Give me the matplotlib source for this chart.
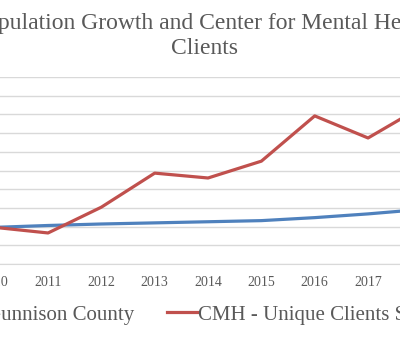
import numpy as np
import matplotlib
matplotlib.use("Agg")
import matplotlib.pyplot as plt

# values (index scale, gridline every 50)
years = ["2010", "2011", "2012", "2013", "2014", "2015", "2016", "2017", "2018"]
gunnison_county = [98, 103, 107, 110, 113, 116, 124, 134, 146]
cmh_clients = [98, 83, 152, 243, 230, 275, 396, 337, 420]

plt.rcParams['font.family'] = ['Liberation Serif', 'DejaVu Serif']
text_grey = "#595959"
blue = "#4F81BD"
red = "#C0504D"

fig = plt.figure(figsize=(4, 3.4), dpi=100)
# the plot area is wider than the picture, it is cut off on both sides
ax = fig.add_axes([-0.1, 0.2235, 1.2, 0.55])

x = np.arange(len(years))
ax.plot(x, gunnison_county, color=blue, lw=2.3, label="Gunnison County")
ax.plot(x, cmh_clients, color=red, lw=2.3, label="CMH - Unique Clients Served")

ax.set_xlim(-0.6506, 8.349)
ax.set_ylim(0, 500)
ax.set_yticks(np.arange(0, 501, 50))
ax.set_yticklabels([])
ax.set_xticks(x)
ax.set_xticklabels(years)
ax.tick_params(axis='both', length=0)
ax.tick_params(axis='x', colors=text_grey, labelsize=10, pad=8.5)
ax.grid(axis='y', color="#d9d9d9", lw=1)
ax.set_axisbelow(True)
for side in ["top", "left", "right"]:
    ax.spines[side].set_visible(False)
ax.spines["bottom"].set_color("#d9d9d9")

fig.text(0.5125, 0.895, "Population Growth and Center for Mental Health\nClients",
         ha='center', va='center', fontsize=17, color=text_grey, linespacing=1.26)

leg = fig.legend(loc='center', bbox_to_anchor=(0.51, 0.074), ncol=2, frameon=False,
                 fontsize=15, handlelength=1.45, handletextpad=0.0, columnspacing=1.6)
for t in leg.get_texts():
    t.set_color(text_grey)

fig.savefig("out.png", dpi=100)
